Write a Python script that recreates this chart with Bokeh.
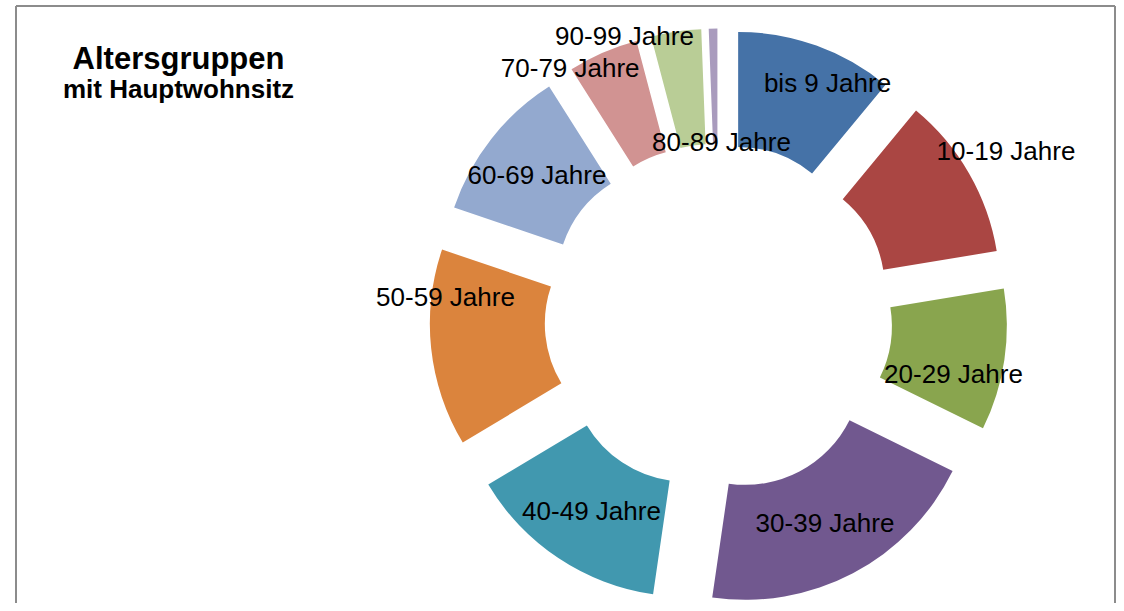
import math
from bokeh.plotting import figure
from bokeh.models import Range1d, ColumnDataSource
from bokeh.core.properties import value
from bokeh.embed import file_html
from bokeh.resources import INLINE

# ---- data ----
categories = ["bis 9 Jahre", "10-19 Jahre", "20-29 Jahre", "30-39 Jahre", "40-49 Jahre",
              "50-59 Jahre", "60-69 Jahre", "70-79 Jahre", "80-89 Jahre", "90-99 Jahre"]
shares = [11.0, 11.4, 9.9, 20.0, 14.1, 13.8, 10.8, 4.9, 3.5, 0.6]
colors = ["#4572A7", "#AA4643", "#89A54E", "#71588F", "#4198AF",
          "#DB843D", "#93A9CF", "#D19392", "#B9CD96", "#A99BBD"]
title_text = "Altersgruppen"
subtitle_text = "mit Hauptwohnsitz"

# ---- layout (pixel coordinates of the picture) ----
CX, CY = 718.0, 317.0
R_OUT, R_IN, EXPLODE = 231.0, 116.0, 58.0
TEXT_SHIFT = 8.0  # baseline correction for rendered text
label_anchor_px = [(827, 90.7), (1005.5, 158.3), (953, 381.7), (824.5, 530), (591, 518.3),
                   (445, 304), (536.5, 182), (569.7, 75), (721, 149.3), (624, 43.3)]

W, H = 1116, 603
p = figure(width=W, height=H, output_backend="svg", toolbar_location=None,
           x_range=Range1d(0, W), y_range=Range1d(-H, 0),
           min_border=0, min_border_left=0, min_border_right=0,
           min_border_top=0, min_border_bottom=0)
p.axis.visible = False
p.grid.visible = False
p.outline_line_color = None
p.background_fill_color = "white"
p.border_fill_color = "white"

total = sum(shares)
xs, ys, starts, ends = [], [], [], []
cum = 0.0
for s in shares:
    t1 = cum / total * 360.0
    cum += s
    t2 = cum / total * 360.0
    tm = math.radians((t1 + t2) / 2)
    xs.append(CX + EXPLODE * math.sin(tm))
    ys.append(-CY + EXPLODE * math.cos(tm))
    starts.append(math.radians(90.0 - t2))
    ends.append(math.radians(90.0 - t1))

src = ColumnDataSource(dict(x=xs, y=ys, start=starts, end=ends, color=colors, cat=categories))
p.annular_wedge(x="x", y="y", inner_radius=R_IN, outer_radius=R_OUT,
                start_angle="start", end_angle="end", direction="anticlock",
                fill_color="color", line_color=None, source=src)

lsrc = ColumnDataSource(dict(x=[a for a, b in label_anchor_px],
                             y=[-b + TEXT_SHIFT for a, b in label_anchor_px], text=categories))
p.text(x="x", y="y", text="text", source=lsrc, text_align="center",
       text_baseline="alphabetic", text_font=value("Liberation Sans"),
       text_font_size="26px", text_color="black")

p.text(x=[178], y=[-66 + TEXT_SHIFT], text=[title_text], text_align="center", text_baseline="alphabetic",
       text_font=value("Liberation Sans"), text_font_size="31px", text_font_style="bold",
       text_color="black")
p.text(x=[178], y=[-96.7 + TEXT_SHIFT], text=[subtitle_text], text_align="center", text_baseline="alphabetic",
       text_font=value("Liberation Sans"), text_font_size="26px", text_font_style="bold",
       text_color="black")

# chart border
p.segment(x0=[15.5, 1114.5, 15.5], y0=[-5.5, -5.5, -5.5], x1=[15.5, 1114.5, 1114.5], y1=[-603, -603, -5.5],
          line_color="#8c8c8c", line_width=2)

html = file_html(p, INLINE)
open("out.html", "w").write(html)
